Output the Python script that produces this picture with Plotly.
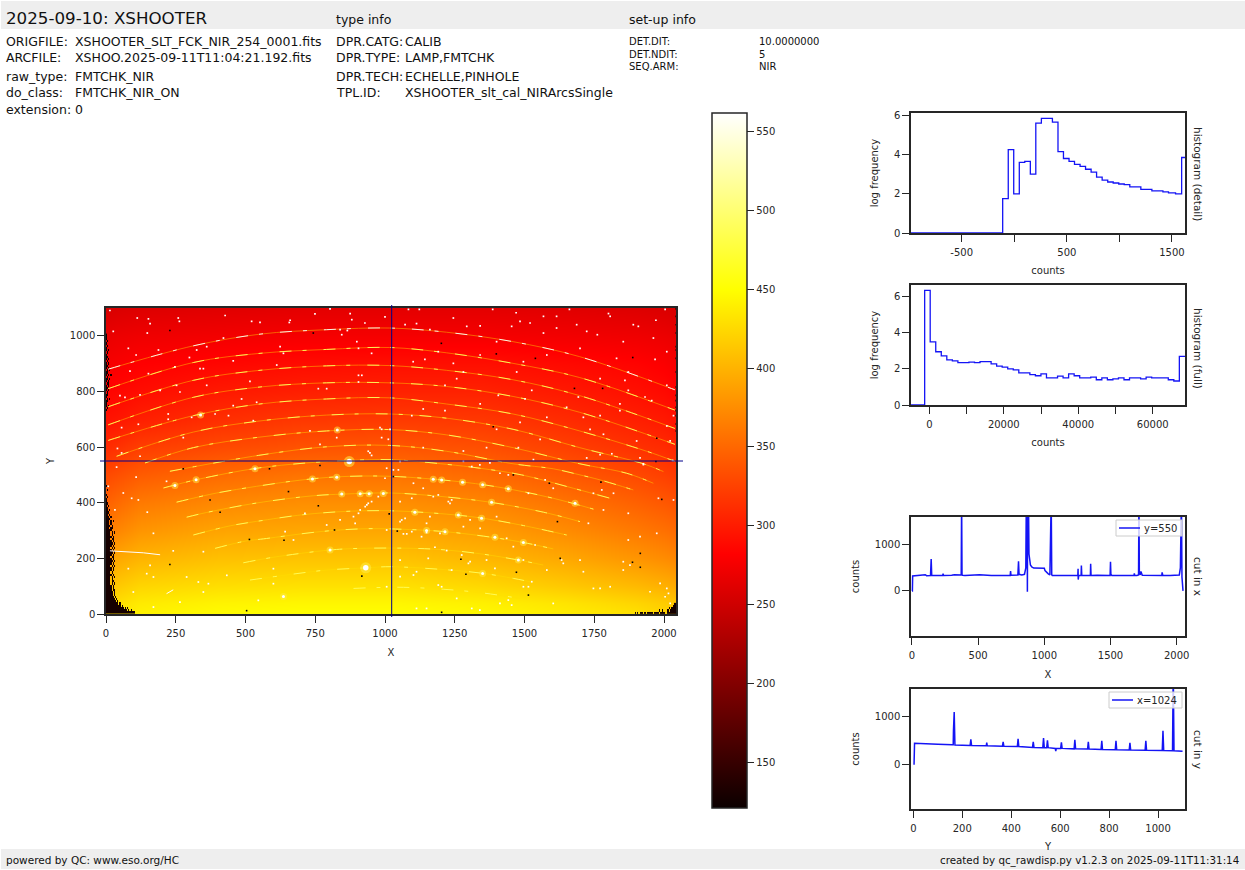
#!/usr/bin/env python3
"""XSHOOTER raw frame display: image, colour bar, histograms and cuts."""
import plotly.graph_objects as go

W = 1245
H = 870
INK = "#262626"
BLUE = "#1414f5"
FONT = "DejaVu Sans"

# --- image background (counts) ---
grid_x = [0, 40, 120, 400, 700, 1024, 1350, 1650, 1900, 2000, 2048]
grid_y = [0, 12, 40, 100, 200, 300, 400, 500, 600, 700, 800, 900, 1000, 1100]
grid_z = [
    [426, 434, 442, 448, 450, 450, 446, 438, 430, 422, 418],
    [424, 432, 440, 446, 448, 448, 444, 436, 428, 420, 416],
    [420, 428, 436, 442, 444, 444, 440, 432, 422, 416, 412],
    [406, 414, 422, 428, 430, 430, 424, 414, 404, 398, 394],
    [384, 392, 400, 408, 410, 410, 402, 392, 380, 374, 370],
    [364, 370, 380, 390, 392, 392, 386, 374, 362, 356, 352],
    [346, 352, 362, 372, 376, 376, 370, 358, 346, 340, 336],
    [330, 334, 342, 352, 358, 358, 352, 340, 330, 324, 320],
    [310, 314, 322, 330, 336, 338, 334, 324, 314, 310, 306],
    [294, 296, 302, 312, 318, 320, 318, 310, 302, 298, 294],
    [284, 286, 290, 298, 302, 304, 304, 298, 292, 288, 284],
    [276, 278, 282, 286, 290, 292, 292, 288, 284, 280, 276],
    [268, 270, 272, 274, 276, 276, 276, 274, 272, 270, 268],
    [256, 258, 260, 262, 264, 264, 264, 262, 260, 258, 256],
]
z_low = 121.5
z_high = 561.4

# dead pixels along the left edge, one string per 8 rows from y=0 up, one char per 4 columns
left_rows = [
    "##########################", "###################.#.#", "################.#.#", "#############.#",
    "###########.#", "#########.#", "########.#", "#######.#", "######.#", "######.#", "#####.##",
    "#####.#", "#####.#", "####.#.#", "####.##", "####.#", "####.#.#", "#####.#", "####.#", "#####.#",
    "#####.#", "####.#.#", "#####.#", "######.#", "#####.#", "####.##", "#####.#", "######.#", "#####.#",
    "####.#.#", "#####.#", "######.#", "#####.#", "####.##", "#####.#", "####.#", "####.#.#", "#####",
    "###.##", "####.#", "###.#", "###.#.#", "####", "###.#", "##.#", "###", "##.#", "##", "#.#", "##",
    "#", "#", ".#", "#", "", ".#", "", "#", "", "", "", "", "", "", "", "", "", "", "", "", "", "", "", "", "",
    "", "", "", "", "", "", "", "", "", "", "", "", "", "", "", "",
    "#", ".#", "#.#", "#", "##", ".#.#", "#.", "##", ".#", "#.#", "##", "#.#", ".##", "#.#", "##.#", ".#",
    "#.#.#", "##", ".#.#", "#.#", "##", "#.#", ".#", "#.#", "##", "#", ".#", "#.#", "#", ".#", "#", ".#",
    "#", "#", "#",
]
# same for the lower right corner, the last char ends at the right edge
right_rows = [
    ".#.#.###.##.#####.####.#####.##########",
    "......................#..#...##.#######",
    "...............................#.######",
    "...................................####",
    "....................................###",
]

# --- echelle orders, (X, Y) read along each arc ---
arc_01 = [(8, 880), (313, 964), (552, 1006), (790, 1022), (1017, 1028), (1220, 1013), (1459, 979), (1698, 925), (2039, 806)]
arc_02 = [(8, 810), (313, 904), (552, 937), (790, 951), (1017, 958), (1220, 939), (1459, 901), (1698, 850), (2039, 733)]
arc_03 = [(8, 745), (313, 840), (552, 876), (790, 892), (1017, 893), (1220, 876), (1459, 842), (1698, 785), (2039, 667)]
arc_04 = [(8, 680), (313, 779), (552, 816), (790, 831), (1017, 831), (1220, 818), (1459, 782), (1698, 725), (2039, 610)]
arc_05 = [(8, 624), (313, 713), (552, 755), (790, 773), (1017, 777), (1220, 755), (1459, 719), (1698, 658), (1938, 585), (2039, 549)]
arc_06 = [(38, 567), (313, 654), (552, 694), (790, 715), (1017, 719), (1220, 704), (1459, 664), (1698, 598), (1926, 540), (1998, 512)]
arc_07 = [(140, 543), (313, 598), (552, 636), (790, 658), (1017, 663), (1220, 644), (1459, 598), (1698, 540), (1866, 506), (1962, 470)]
arc_08 = [(229, 513), (552, 571), (790, 601), (1017, 606), (1220, 585), (1459, 540), (1603, 522), (1699, 500), (1771, 482), (1890, 446)]
arc_09 = [(206, 453), (325, 483), (534, 523), (719, 543), (875, 552), (1018, 555), (1221, 538), (1340, 524), (1490, 500), (1675, 452), (1807, 416)]
arc_10 = [(253, 402), (397, 435), (540, 459), (695, 481), (827, 493), (1018, 495), (1281, 474), (1442, 450), (1603, 416), (1747, 377)]
arc_11 = [(289, 348), (361, 365), (540, 399), (743, 425), (851, 431), (1018, 435), (1185, 424), (1376, 402), (1568, 366), (1699, 332)]
arc_12 = [(313, 284), (445, 317), (540, 333), (707, 357), (863, 369), (1018, 371), (1221, 359), (1352, 344), (1496, 318), (1651, 284)]
arc_13 = [(391, 236), (504, 263), (564, 270), (767, 296), (911, 306), (1018, 306), (1215, 296), (1388, 275), (1496, 257), (1603, 234)]
arc_14 = [(492, 184), (600, 204), (803, 230), (911, 236), (1101, 236), (1221, 230), (1352, 215), (1478, 194), (1567, 176)]
arc_15 = [(516, 122), (660, 142), (791, 158), (934, 166), (1018, 170), (1245, 157), (1352, 146), (1460, 128), (1520, 116)]
arc_16 = [(887, 92), (970, 95), (1066, 96), (1209, 89), (1340, 77), (1484, 56)]
arcs = [arc_01, arc_02, arc_03, arc_04, arc_05, arc_06, arc_07, arc_08,
        arc_09, arc_10, arc_11, arc_12, arc_13, arc_14, arc_15, arc_16]
streak = [(14, 227), (134, 220), (194, 213)]
stub = [(217, 73), (241, 87)]

# saturated emission spots
big_spots = [(872, 548), (931, 166)]
spots = [(829, 661), (339, 715), (534, 522), (740, 485), (827, 492), (845, 431), (911, 432), (943, 432), (994, 433),
         (323, 483), (247, 462), (636, 63), (803, 230), (1173, 484), (1203, 482), (1278, 474), (1350, 465), (1442, 450),
         (1681, 398), (1215, 296), (1107, 366), (1478, 194), (1382, 402), (1496, 257), (1350, 146), (1149, 300),
         (1263, 356), (1394, 276), (1346, 344)]

# hot pixels
hot_pixels = [
    (14, 1091), (112, 1064), (152, 1061), (158, 1044), (259, 1064), (263, 1052), (427, 1073), (522, 1052), (552, 1048),
    (660, 1056), (657, 1048), (749, 1079), (803, 1097), (839, 1022), (845, 1004), (865, 1019), (875, 1080), (881, 1058),
    (928, 1046), (1000, 1068), (26, 1016), (148, 1010), (80, 955), (188, 949), (108, 931), (299, 922), (325, 949),
    (361, 961), (421, 992), (456, 910), (612, 895), (624, 961), (636, 937), (899, 979), (905, 955), (952, 937),
    (152, 864), (86, 873), (247, 888), (337, 882), (349, 882), (905, 858), (917, 858), (905, 834), (516, 836), (791, 810),
    (761, 810), (486, 773), (253, 822), (361, 822), (50, 785), (68, 779), (122, 788), (194, 804), (265, 798), (439, 713),
    (456, 749), (540, 761), (528, 695), (223, 719), (223, 700), (391, 719), (116, 682), (56, 670), (122, 567), (41, 595),
    (56, 579), (277, 634), (307, 707), (731, 658), (827, 634), (767, 610), (940, 585), (946, 579), (952, 570), (982, 670),
    (988, 634), (1012, 628),
    (1084, 1095), (1123, 1095), (1386, 1095), (1470, 1083), (1568, 1070), (1615, 1070), (1661, 1095), (1801, 1080),
    (1807, 1070), (1971, 1056), (2004, 1095), (1072, 1040), (1113, 1044), (1161, 1022), (1245, 1064), (1293, 1034),
    (1341, 1036), (1400, 979), (1454, 1034), (1484, 1052), (1520, 1046), (1568, 1010), (1615, 1028), (1687, 1040),
    (1723, 1016), (1761, 1004), (1854, 979), (1890, 1040), (1908, 1034), (1962, 992), (2010, 943), (1143, 915), (1101, 907),
    (1191, 943), (1245, 901), (1341, 931), (1496, 907), (1580, 931), (1699, 955), (1830, 919), (1968, 915), (2010, 822),
    (1860, 840), (1872, 804), (1872, 870), (1472, 870), (1771, 846), (1281, 870), (1257, 846), (1215, 822), (1406, 786),
    (1526, 804), (1693, 780), (1842, 755), (1956, 767), (1932, 780), (1137, 737), (1096, 713), (1215, 731), (1341, 755),
    (1502, 773), (1651, 743), (1711, 707), (1771, 713), (1842, 731), (2010, 676), (2034, 713), (1018, 664), (988, 664),
    (1400, 664), (1484, 689), (1580, 707), (1735, 664), (1783, 646), (1902, 622), (2022, 622), (1137, 598), (1281, 586),
    (1364, 598), (1478, 598), (1556, 628), (1723, 561), (1771, 573), (1813, 576), (1914, 561), (1054, 549), (1281, 549),
    (1376, 543), (1532, 555), (1926, 537), (2031, 552),
    (8, 459), (38, 528), (62, 435), (92, 416), (108, 492), (116, 410), (217, 477), (32, 374), (148, 366), (170, 290),
    (158, 175), (80, 163), (146, 145), (170, 133), (289, 133), (241, 227), (349, 224), (367, 109), (349, 79), (265, 43),
    (170, 25), (98, 79), (546, 49), (600, 163), (600, 109), (433, 139), (331, 115), (642, 296), (672, 266), (713, 362),
    (791, 320), (839, 338), (887, 350), (911, 374), (935, 392), (952, 404), (893, 326), (976, 422), (940, 398), (929, 386),
    (905, 362),
    (1030, 518), (1048, 518), (1102, 470), (1006, 524), (1000, 488), (1054, 404), (1096, 416), (1137, 452), (1233, 398),
    (1239, 410), (1173, 422), (1191, 428), (1227, 404), (1060, 338), (1072, 344), (1054, 332), (1006, 302), (1066, 288),
    (1078, 288), (1096, 296), (1149, 293), (1197, 290), (1161, 350), (1149, 326), (1131, 278), (1155, 200), (1054, 194),
    (1179, 240), (1221, 228), (1275, 212), (1305, 188), (1299, 182), (1239, 158), (1113, 152), (1102, 140), (1054, 134),
    (1006, 98), (1191, 104), (1203, 98), (1257, 56), (1364, 194), (1394, 164), (1400, 350), (1305, 338), (1281, 314),
    (1341, 308), (1436, 272), (1460, 242), (1538, 248), (1496, 194), (1580, 158), (1526, 116), (1514, 98), (1496, 98),
    (1603, 38), (1454, 32), (1412, 38), (1340, 14), (1311, 20), (1149, 20), (1113, 20), (1442, 50), (1711, 152), (1747, 92),
    (1771, 92), (1807, 98), (1854, 158), (1854, 188), (1878, 176), (1974, 290), (1914, 278), (1872, 362), (1872, 266),
    (1729, 326), (1783, 374), (2034, 410), (1980, 416), (2010, 92), (2016, 74), (2004, 62), (2022, 38), (1819, 434),
    (1747, 434), (1777, 446), (1633, 194), (1639, 182), (1699, 194), (1603, 452), (1574, 482), (1514, 434), (1442, 500),
    (1412, 506), (1340, 536), (1311, 530), (1926, 540), (1986, 110), (1950, 80),
]

# dead pixels
dark_pixels = [
    (1030, 494), (1460, 500), (1589, 470), (1774, 474), (1992, 412), (1971, 548), (1015, 360), (1044, 298), (1618, 332),
    (1272, 197), (1290, 143), (1471, 150), (1514, 68), (1628, 200), (1915, 218), (1887, 186), (1915, 168), (1203, 6),
    (229, 1019), (743, 1010), (373, 410), (409, 366), (654, 440), (761, 389), (229, 178), (514, 268), (638, 265),
    (819, 302), (917, 136), (504, 12), (277, 522), (586, 522), (767, 534), (1202, 973), (1399, 935), (1539, 919),
    (1888, 922), (1679, 811), (1780, 811), (1388, 673), (1974, 632),
    (2044, 1097), (2044, 1070), (2044, 1040), (2044, 1010), (2044, 961), (2044, 949), (2044, 919), (2044, 870),
    (2044, 816), (2044, 786), (2044, 767), (2044, 743), (2044, 731), (2044, 713), (2044, 683), (2044, 658),
]

cross_x = 1024
cross_y = 550

# --- colour bar ticks ---
cbar_ticks = [150, 200, 250, 300, 350, 400, 450, 500, 550]

# --- histogram (detail) ---
detail_edges = [-982, -110, -57, -5, 48, 100, 153, 205, 258, 311, 363, 416, 468, 521, 573, 626, 678, 731, 783, 836, 889,
                941, 994, 1046, 1099, 1151, 1204, 1256, 1309, 1362, 1414, 1467, 1534, 1592, 1624]
detail_freq = [0, 1.75, 4.25, 2.0, 3.6, 3.65, 3.0, 5.6, 5.85, 5.85, 5.65, 4.15, 3.8, 3.65, 3.5, 3.4, 3.25, 3.1, 2.85, 2.7,
               2.6, 2.55, 2.5, 2.47, 2.35, 2.35, 2.22, 2.22, 2.15, 2.15, 2.1, 2.05, 2.0, 3.85, 3.85]
detail_ticks = [-500, 0, 500, 1000, 1500]
detail_labels = ["-500", "", "500", "", "1500"]

# --- histogram (full) ---
full_edges = [-4924, -1253, 234, 1721, 3208, 4695, 6182, 7669, 9156, 10643, 12130, 13617, 15104, 16591, 18078, 19565,
              21052, 22539, 24026, 25513, 27000, 28487, 29974, 31461, 32948, 34435, 35922, 37409, 38896, 40383, 41870,
              43357, 44844, 46331, 47818, 49305, 50792, 52279, 53766, 55253, 56740, 58227, 59714, 61201, 62688, 64175,
              65662, 67149, 68666]
full_freq = [0, 6.35, 3.5, 2.95, 2.72, 2.5, 2.45, 2.35, 2.35, 2.38, 2.35, 2.4, 2.4, 2.28, 2.15, 2.1, 2.0, 1.95, 1.78, 1.78,
             1.68, 1.62, 1.72, 1.5, 1.5, 1.6, 1.5, 1.72, 1.62, 1.5, 1.5, 1.55, 1.4, 1.5, 1.4, 1.45, 1.5, 1.4, 1.5, 1.5, 1.45,
             1.55, 1.5, 1.5, 1.5, 1.4, 1.33, 2.7, 2.7]
full_ticks = [0, 10000, 20000, 30000, 40000, 50000, 60000]
full_labels = ["0", "", "20000", "", "40000", "", "60000"]

# --- cut in x at y=550 ---
cutx_x = [0, 3, 5, 30, 90, 100, 110, 140, 145, 149, 200, 232, 235, 238, 300, 320, 372, 375, 378, 382, 400, 500, 510, 600,
          700, 742, 745, 748, 800, 805, 809, 830, 850, 860, 864, 870, 872, 874, 880, 884, 895, 905, 920, 950, 980, 1000,
          1005, 1015, 1030, 1042, 1045, 1052, 1056, 1060, 1100, 1200, 1253, 1255, 1256, 1257, 1260, 1278, 1280, 1283,
          1300, 1348, 1350, 1353, 1400, 1497, 1500, 1503, 1510, 1600, 1678, 1680, 1683, 1700, 1712, 1715, 1718, 1725,
          1730, 1740, 1800, 1888, 1890, 1895, 1950, 2020, 2028, 2033, 2036, 2040, 2045, 2048]
cutx_y = [0, 0, 325, 330, 335, 350, 330, 335, 690, 340, 335, 335, 375, 335, 340, 352, 345, 2000, 352, 340, 335, 340, 350, 335,
          335, 335, 430, 340, 345, 640, 360, 345, 360, 500, 2000, 2000, -20, 2000, 2000, 800, 560, 520, 495, 490, 480, 490,
          440, 420, 370, 345, 2000, 2000, 350, 335, 335, 340, 335, 480, 245, 400, 335, 335, 550, 335, 335, 335, 590, 335, 340,
          335, 630, 360, 335, 340, 335, 380, 335, 335, 345, 2000, 380, 350, 420, 340, 335, 335, 400, 340, 335, 345, 500, 2000,
          2000, 300, 0, 0]

# --- cut in y at x=1024 ---
cuty_x = [0, 3, 5, 20, 100, 160, 163, 164, 165, 167, 170, 232, 235, 238, 298, 300, 302, 364, 367, 370, 425, 428, 431, 487,
          490, 493, 529, 532, 535, 545, 548, 551, 580, 582, 584, 602, 605, 608, 657, 660, 663, 712, 715, 718, 767, 770,
          773, 825, 828, 831, 882, 885, 888, 947, 950, 953, 1017, 1020, 1023, 1059, 1062, 1065, 1100]
cuty_y = [0, 0, 440, 435, 420, 405, 405, 700, 1100, 1100, 402, 390, 520, 390, 385, 450, 385, 375, 470, 375, 370, 530, 368,
          350, 470, 350, 345, 550, 345, 345, 500, 345, 330, 270, 330, 330, 460, 330, 320, 510, 320, 315, 470, 315, 305, 490,
          305, 300, 490, 300, 295, 450, 295, 290, 490, 290, 285, 700, 285, 280, 2000, 280, 270]

# --- texts ---
header_left = [("ORIGFILE:", "XSHOOTER_SLT_FCK_NIR_254_0001.fits"), ("ARCFILE:", "XSHOO.2025-09-11T11:04:21.192.fits"),
               ("raw_type:", "FMTCHK_NIR"), ("do_class:", "FMTCHK_NIR_ON"), ("extension:", "0")]
header_mid = [("DPR.CATG:", "CALIB"), ("DPR.TYPE:", "LAMP,FMTCHK"), ("DPR.TECH:", "ECHELLE,PINHOLE"),
              ("TPL.ID:", "XSHOOTER_slt_cal_NIRArcsSingle")]
header_setup = [("DET.DIT:", "10.0000000"), ("DET.NDIT:", "5"), ("SEQ.ARM:", "NIR")]

hot_scale = [[0, "rgb(11,0,0)"], [0.365, "rgb(255,0,0)"], [0.746, "rgb(255,255,0)"], [1, "rgb(255,255,255)"]]


def px_x(x):
    return x / W


def px_y(y):
    return 1 - y / H


def label(text, x, y, size=12.5, anchor="left", angle=0, color="#111111"):
    # annotations carry about 2px of padding around the text
    nudge = {"left": -2, "right": 2, "center": 0}[anchor]
    return dict(text=text, x=px_x(x + nudge), y=px_y(y), xref="paper", yref="paper", showarrow=False,
                xanchor=anchor, yanchor="middle", textangle=angle,
                font=dict(family=FONT, size=size, color=color))


def frame(left, right, top=None, bottom=None):
    """Common axis look, domain from page pixels."""
    style = dict(showline=True, mirror=True, linecolor=INK, linewidth=1.5, ticks="outside", ticklen=7, tickwidth=1.2,
                 tickcolor=INK, showgrid=False, zeroline=False, tickfont=dict(family=FONT, size=10, color=INK))
    if top is None:
        style["domain"] = [px_x(left), px_x(right)]
        style["ticklabelstandoff"] = 2
    else:
        style["domain"] = [px_y(bottom), px_y(top)]
    return style


def mask_cells(rows, first_x, right_aligned=False):
    ncol = max(len(r) for r in rows)
    xs = [first_x + 2 + 4 * i for i in range(ncol)]
    ys = [4 + 8 * j for j in range(len(rows))]
    zs = []
    for r in rows:
        r = r.rjust(ncol, ".") if right_aligned else r.ljust(ncol, ".")
        zs.append([128 if c == "#" else None for c in r])
    return xs, ys, zs


fig = go.Figure()

# image
fig.add_trace(go.Heatmap(x=grid_x, y=grid_y, z=grid_z, coloraxis="coloraxis", zsmooth="best", hoverinfo="skip"))
for rows, first, flush in ((left_rows, 0, False), (right_rows, 1892, True)):
    xs, ys, zs = mask_cells(rows, first, flush)
    fig.add_trace(go.Heatmap(x=xs, y=ys, z=zs, coloraxis="coloraxis", hoverinfo="skip"))

for i, arc in enumerate(arcs):
    fig.add_trace(go.Scatter(x=[p[0] for p in arc], y=[p[1] for p in arc], mode="lines", hoverinfo="skip", showlegend=False,
                             opacity=0.55, line=dict(color="#ffe000", width=0.8, shape="spline")))
    fig.add_trace(go.Scatter(x=[p[0] for p in arc], y=[p[1] for p in arc], mode="lines", hoverinfo="skip", showlegend=False,
                             opacity=0.9, line=dict(color="#ffffff" if i == 0 else "#ffff60", width=1, shape="spline", dash="12px,11px,4px,17px")))
for seg in (streak, stub):
    fig.add_trace(go.Scatter(x=[p[0] for p in seg], y=[p[1] for p in seg], mode="lines", hoverinfo="skip", showlegend=False,
                             line=dict(color="#ffffff", width=1)))
# glow first, white core on top
fig.add_trace(go.Scatter(x=[p[0] for p in spots], y=[p[1] for p in spots], mode="markers", hoverinfo="skip", showlegend=False,
                         marker=dict(size=7, color="rgba(255,235,70,0.5)", line=dict(width=0))))
fig.add_trace(go.Scatter(x=[p[0] for p in big_spots], y=[p[1] for p in big_spots], mode="markers", hoverinfo="skip", showlegend=False,
                         marker=dict(size=11, color="rgba(255,235,70,0.55)", line=dict(width=0))))
fig.add_trace(go.Scatter(x=[p[0] for p in spots], y=[p[1] for p in spots], mode="markers", hoverinfo="skip", showlegend=False,
                         marker=dict(size=3, color="#ffffff", line=dict(width=0))))
fig.add_trace(go.Scatter(x=[p[0] for p in big_spots], y=[p[1] for p in big_spots], mode="markers", hoverinfo="skip", showlegend=False,
                         marker=dict(size=5.5, color="#ffffff", line=dict(width=0))))
fig.add_trace(go.Scatter(x=[p[0] for p in hot_pixels], y=[p[1] for p in hot_pixels], mode="markers", hoverinfo="skip", showlegend=False,
                         marker=dict(size=1.7, color="#ffffff", symbol="square", line=dict(width=0))))
fig.add_trace(go.Scatter(x=[p[0] for p in dark_pixels], y=[p[1] for p in dark_pixels], mode="markers", hoverinfo="skip", showlegend=False,
                         marker=dict(size=1.6, color="#000000", symbol="square", line=dict(width=0))))

# histograms
fig.add_trace(go.Scatter(x=detail_edges, y=detail_freq, mode="lines", xaxis="x2", yaxis="y2", showlegend=False,
                         line=dict(color=BLUE, width=1.3, shape="hv")))
fig.add_trace(go.Scatter(x=full_edges, y=full_freq, mode="lines", xaxis="x3", yaxis="y3", showlegend=False,
                         line=dict(color=BLUE, width=1.3, shape="hv")))

# cuts
fig.add_trace(go.Scatter(x=cutx_x, y=cutx_y, mode="lines", xaxis="x4", yaxis="y4", showlegend=False,
                         line=dict(color=BLUE, width=1.5)))
fig.add_trace(go.Scatter(x=cuty_x, y=cuty_y, mode="lines", xaxis="x5", yaxis="y5", showlegend=False,
                         line=dict(color=BLUE, width=1.5)))


def title(text, standoff):
    return dict(text=text, standoff=standoff, font=dict(family=FONT, size=10, color=INK))


fig.update_layout(
    width=W, height=H, autosize=False, margin=dict(l=0, r=0, t=0, b=0, autoexpand=False), showlegend=False,
    paper_bgcolor="#ffffff", plot_bgcolor="#ffffff", font=dict(family=FONT, size=10, color=INK),
    coloraxis=dict(
        cmin=z_low, cmax=z_high, colorscale=hot_scale,
        colorbar=dict(x=px_x(712), xanchor="left", xpad=0, y=px_y(808), yanchor="bottom", ypad=0, thickness=35,
                      thicknessmode="pixels", len=695, lenmode="pixels", outlinecolor=INK, outlinewidth=1.5,
                      tickvals=cbar_ticks, ticks="outside", ticklen=7, tickwidth=1.2, tickcolor=INK,
                      tickfont=dict(family=FONT, size=10, color=INK)),
    ),
    xaxis=dict(frame(106, 676), anchor="y", range=[0, 2043], tickvals=[0, 250, 500, 750, 1000, 1250, 1500, 1750, 2000], title=title("X", 11)),
    yaxis=dict(frame(0, 0, 308, 614), anchor="x", range=[0, 1100], tickvals=[0, 200, 400, 600, 800, 1000], title=title("Y", 13)),
    xaxis2=dict(frame(911, 1185), anchor="y2", range=[-982, 1624], tickvals=detail_ticks, ticktext=detail_labels, title=title("counts", 10)),
    yaxis2=dict(frame(0, 0, 113, 233), anchor="x2", range=[0, 6.12], tickvals=[0, 2, 4, 6], title=title("log frequency", 13)),
    xaxis3=dict(frame(911, 1185), anchor="y3", range=[-4924, 68666], tickvals=full_ticks, ticktext=full_labels, title=title("counts", 10)),
    yaxis3=dict(frame(0, 0, 285, 405), anchor="x3", range=[0, 6.65], tickvals=[0, 2, 4, 6], title=title("log frequency", 13)),
    xaxis4=dict(frame(911, 1185), anchor="y4", range=[-7.5, 2063], tickvals=[0, 500, 1000, 1500, 2000], title=title("X", 11)),
    yaxis4=dict(frame(0, 0, 517, 636), anchor="x4", range=[-978, 1602], tickvals=[0, 1000], title=title("counts", 13)),
    xaxis5=dict(frame(911, 1185), anchor="y5", range=[-9.5, 1110], tickvals=[0, 200, 400, 600, 800, 1000], title=title("Y", 10)),
    yaxis5=dict(frame(0, 0, 689, 809), anchor="x5", range=[-951, 1585], tickvals=[0, 1000], title=title("counts", 13)),
)

annotations = [label("2025-09-10: XSHOOTER", 6, 18, size=16.7), label("type info", 336, 19), label("set-up info", 629, 19),
               label("powered by QC: www.eso.org/HC", 6, 860, size=10.5),
               label("created by qc_rawdisp.py v1.2.3 on 2025-09-11T11:31:14", 1239, 860, size=10.3, anchor="right"),
               label("histogram (detail)", 1198, 174, size=10.5, anchor="center", angle=90, color=INK),
               label("histogram (full)", 1198, 348, size=10.5, anchor="center", angle=90, color=INK),
               label("cut in x", 1198, 576, size=10.5, anchor="center", angle=90, color=INK),
               label("cut in y", 1198, 749, size=10.5, anchor="center", angle=90, color=INK),
               label("y=550", 1144, 528, size=10, color=INK), label("x=1024", 1137, 700, size=10, color=INK)]
for (key, val), y in zip(header_left, [41, 58, 76, 93, 110]):
    annotations += [label(key, 6, y), label(val, 75, y)]
for (key, val), y in zip(header_mid, [41, 58, 76, 93]):
    annotations += [label(key, 336, y), label(val, 405, y)]
for (key, val), y in zip(header_setup, [41, 54, 66]):
    annotations += [label(key, 629, y, size=10), label(val, 759, y, size=10)]
fig.update_layout(annotations=annotations)


def legend_box(left, right, top, bottom, key_end):
    """Small framed key as matplotlib draws it, inside the cut panels."""
    return [
        dict(type="rect", xref="paper", yref="paper", x0=px_x(left), x1=px_x(right), y0=px_y(bottom), y1=px_y(top),
             fillcolor="rgba(255,255,255,0.8)", line=dict(color="#cccccc", width=1)),
        dict(type="line", xref="paper", yref="paper", x0=px_x(left + 3), x1=px_x(key_end), y0=px_y((top + bottom) / 2),
             y1=px_y((top + bottom) / 2), line=dict(color=BLUE, width=1.5)),
    ]


fig.update_layout(shapes=[
    dict(type="rect", xref="paper", yref="paper", x0=px_x(1), x1=1, y0=px_y(29), y1=px_y(1), fillcolor="#eeeeee", line=dict(width=0), layer="below"),
    dict(type="rect", xref="paper", yref="paper", x0=px_x(1), x1=1, y0=px_y(869), y1=px_y(849), fillcolor="#eeeeee", line=dict(width=0), layer="below"),
    # crosshair runs a little past the frame
    dict(type="line", xref="x", yref="paper", x0=cross_x, x1=cross_x, y0=px_y(617), y1=px_y(305), line=dict(color="#00008b", width=1)),
    dict(type="line", xref="paper", yref="y", x0=px_x(100), x1=px_x(683), y0=cross_y, y1=cross_y, line=dict(color="#00008b", width=1)),
] + legend_box(1116, 1182, 520, 536, 1140) + legend_box(1109, 1182, 692, 708, 1133))

# page margin off, the figure is laid out in window pixels
fig.write_html("out.html", post_script="document.body.style.margin='0';", config={"displayModeBar": False})
